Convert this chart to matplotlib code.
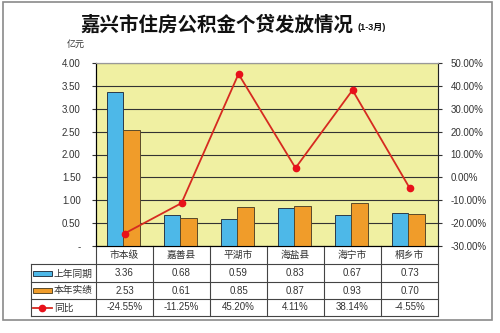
import matplotlib
matplotlib.use("Agg")
import matplotlib.pyplot as plt
from matplotlib.patches import Rectangle
from matplotlib.lines import Line2D
from matplotlib.ticker import FuncFormatter, MultipleLocator
import matplotlib.transforms as mtransforms

plt.rcParams['font.family'] = ['Liberation Sans', 'Noto Sans CJK SC', 'DejaVu Sans']

categories = ["市本级", "嘉善县", "平湖市", "海盐县", "海宁市", "桐乡市"]
last_year = [3.36, 0.68, 0.59, 0.83, 0.67, 0.73]
this_year = [2.53, 0.61, 0.85, 0.87, 0.93, 0.70]
yoy = [-24.55, -11.25, 45.20, 4.11, 38.14, -4.55]
series_names = ["上年同期", "本年实绩", "同比"]

BLUE = "#4DB8E8"
ORANGE = "#F09C2A"
RED = "#D62A20"
MRED = "#E8101A"
BG = "#F0F0A2"
TXT = "#333333"

fig = plt.figure(figsize=(5, 3.33), dpi=100)
fig.patch.set_facecolor("white")
fig.patches.append(Rectangle((3/500, 1-320/333), 489/500, 318/333, transform=fig.transFigure,
                             fill=False, edgecolor="#8a8a8a", lw=1.2))

ax = fig.add_axes([96/500, 1-246/333, 342/500, 183/333])
ax.set_facecolor(BG)
n = len(categories)
xs = list(range(n))
w = 0.29
ax.bar([x - w/2 - 0.02 for x in xs], last_year, width=w, color=BLUE, edgecolor="#2a3a4a", lw=0.7, zorder=3)
ax.bar([x + w/2 - 0.02 for x in xs], this_year, width=w, color=ORANGE, edgecolor="#5a4a2a", lw=0.7, zorder=3)
ax.set_xlim(-0.5, n - 0.5)
ax.set_ylim(0, 4.0)
ax.yaxis.set_major_locator(MultipleLocator(0.5))
ax.yaxis.set_major_formatter(FuncFormatter(lambda v, p: "-" if abs(v) < 1e-9 else f"{v:.2f}"))
ax.grid(axis="y", color="#333333", lw=0.8, zorder=1)
ax.set_xticks([])
ax.tick_params(axis="y", labelsize=7, colors=TXT, length=3, pad=8)
for s in ["top", "right"]:
    ax.spines[s].set_color("#999999")
for s in ["left", "bottom"]:
    ax.spines[s].set_color("#222222")

ax2 = ax.twinx()
ax2.plot(xs, yoy, color=RED, lw=1.3, marker="o", markersize=4.5, markerfacecolor=MRED,
         markeredgecolor=MRED, zorder=5)
ax2.set_ylim(-30, 50)
ax2.yaxis.set_major_locator(MultipleLocator(10))
ax2.yaxis.set_major_formatter(FuncFormatter(lambda v, p: f"{v:.2f}%"))
ax2.tick_params(axis="y", labelsize=7, colors=TXT, length=3, pad=6)
ax2.spines["right"].set_color("#222222")
ax2.spines["top"].set_color("#999999")

# title
fig.text(80/500, 1-25/333, "嘉兴市住房公积金个贷发放情况", fontsize=14, fontweight="bold",
         family=['Noto Sans CJK SC'], ha="left", va="center", color="#111111")
fig.text(357/500, 1-28/333, "(1-3月)", fontsize=6.5, fontweight="bold",
         family=['Liberation Sans', 'Noto Sans CJK SC'], ha="left", va="center", color="#111111")
fig.text(76/500, 1-44/333, "亿元", fontsize=6.5, ha="center", va="center", color=TXT)

# data table
blend = mtransforms.blended_transform_factory(ax.transData, ax.transAxes)
H = 183.0
def ay(py):
    return (246 - py) / H
row_lines = [264, 282, 299, 316]
xl = (31 - 96) / 342.0
lc = "#444444"
ax.add_line(Line2D([0, 1], [ay(264), ay(264)], transform=ax.transAxes, color=lc, lw=0.8, clip_on=False))
for py in row_lines[1:]:
    ax.add_line(Line2D([xl, 1], [ay(py), ay(py)], transform=ax.transAxes, color=lc, lw=0.8, clip_on=False))
ax.add_line(Line2D([xl, 0], [ay(264), ay(264)], transform=ax.transAxes, color=lc, lw=0.8, clip_on=False))
for k in range(n + 1):
    ax.add_line(Line2D([k - 0.5, k - 0.5], [0, ay(316)], transform=blend, color=lc, lw=0.8, clip_on=False))
ax.add_line(Line2D([xl, xl], [ay(264), ay(316)], transform=ax.transAxes, color=lc, lw=0.8, clip_on=False))

for i, c in enumerate(categories):
    ax.text(i, ay(255), c, transform=blend, ha="center", va="center", fontsize=7, color=TXT, clip_on=False)
    ax.text(i, ay(273.5), f"{last_year[i]:.2f}", transform=blend, ha="center", va="center", fontsize=7, color=TXT, clip_on=False)
    ax.text(i, ay(290.5), f"{this_year[i]:.2f}", transform=blend, ha="center", va="center", fontsize=7, color=TXT, clip_on=False)
    ax.text(i, ay(307.5), f"{yoy[i]:.2f}%", transform=blend, ha="center", va="center", fontsize=7, color=TXT, clip_on=False)

def fx(px):
    return (px - 96) / 342.0
for py, col, ec in [(273.5, BLUE, "#2a3a4a"), (290.5, ORANGE, "#5a4a2a")]:
    ax.add_patch(Rectangle((fx(33), ay(py + 2.5)), fx(52) - fx(33), ay(py - 2.5) - ay(py + 2.5),
                           transform=ax.transAxes, facecolor=col, edgecolor=ec, lw=0.7, clip_on=False))
ax.add_line(Line2D([fx(33), fx(52)], [ay(307.5), ay(307.5)], transform=ax.transAxes, color=RED, lw=1.3,
                   clip_on=False))
ax.add_line(Line2D([fx(42.5)], [ay(307.5)], transform=ax.transAxes, color=RED, marker="o", markersize=4.5,
                   markerfacecolor=MRED, markeredgecolor=MRED, clip_on=False))
for py, name in zip([273.5, 290.5, 307.5], series_names):
    ax.text(fx(54), ay(py), name, transform=ax.transAxes, ha="left", va="center", fontsize=7, color=TXT,
            clip_on=False)

fig.savefig("out.png", dpi=100)
